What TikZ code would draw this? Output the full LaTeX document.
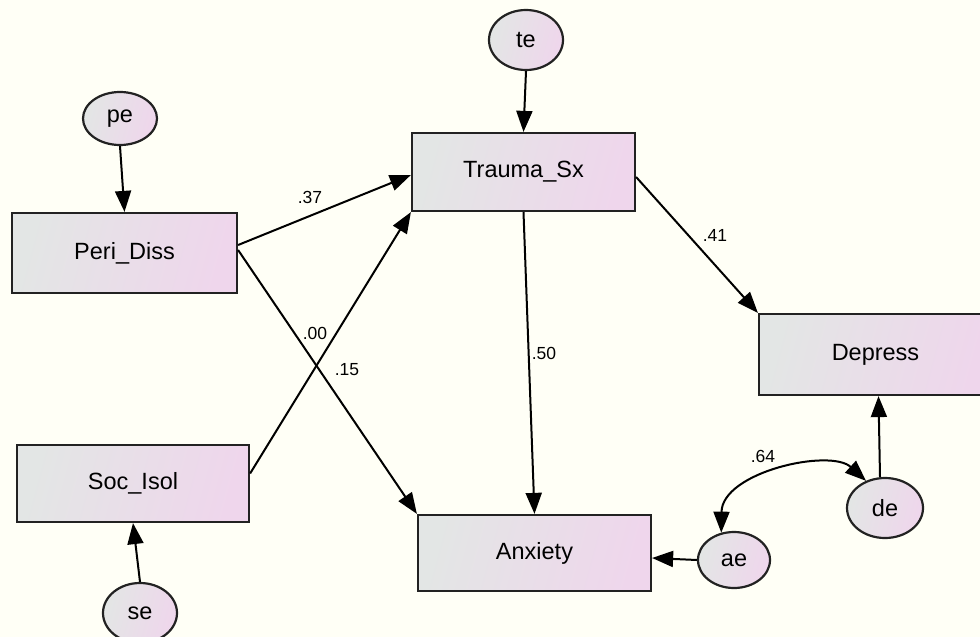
\documentclass[tikz,border=0pt]{standalone}
\usepackage{fontspec}
\setmainfont{Liberation Sans}
\usetikzlibrary{arrows.meta,shapes.geometric}

\definecolor{paper}{HTML}{FFFFF6}
\definecolor{fillL}{HTML}{E3E6E5}
\definecolor{fillR}{HTML}{EFD6EC}
\definecolor{edge}{HTML}{222222}

\tikzset{
  observed/.style={draw=edge, line width=2.2pt, left color=fillL, right color=fillR,
    shading angle=75, rectangle, inner sep=0pt,
    font=\fontsize{23.5}{26}\selectfont},
  residual/.style={draw=edge, line width=2.2pt, left color=fillL, right color=fillR,
    shading angle=75, ellipse, inner sep=0pt,
    font=\fontsize{23.5}{26}\selectfont},
  path/.style={draw=black, line width=2pt, -{Triangle[length=21pt,width=16pt]}},
  covpath/.style={draw=black, line width=2pt,
    {Triangle[length=21pt,width=16pt]}-{Triangle[length=21pt,width=16pt]}},
  coef/.style={font=\fontsize{17.5}{19}\selectfont, inner sep=0pt}
}

\begin{document}
\begin{tikzpicture}[x=1pt,y=-1pt]
  \clip (0,0) rectangle (980,637);
  \fill[paper] (0,0) rectangle (980,637);

  % observed variables
  \node[observed, minimum width=225pt, minimum height=80pt] (peri) at (124.5,253) {Peri\_Diss};
  \node[observed, minimum width=223pt, minimum height=78pt] (trauma) at (523.5,172) {Trauma\_Sx};
  \node[observed, minimum width=233pt, minimum height=81pt] (depress) at (875.5,354.5) {Depress};
  \node[observed, minimum width=232pt, minimum height=77pt] (soc) at (133,483.5) {Soc\_Isol};
  \node[observed, minimum width=233pt, minimum height=76pt] (anx) at (534.5,553) {Anxiety};

  % error terms
  \node[residual, minimum width=74pt, minimum height=53pt] (pe) at (120,118.5) {pe};
  \node[residual, minimum width=74pt, minimum height=60pt] (te) at (526,40) {te};
  \node[residual, minimum width=74pt, minimum height=60pt] (se) at (140,613) {se};
  \node[residual, minimum width=72pt, minimum height=56pt] (ae) at (734,560) {ae};
  \node[residual, minimum width=76pt, minimum height=60pt] (de) at (885,508) {de};

  % error paths
  \draw[path] (pe.south) -- (peri.north);
  \draw[path] (te.south) -- (trauma.north);
  \draw[path] (se.north) -- (soc.south);
  \draw[path] (ae.west) -- ([yshift=-5pt]anx.east);
  \draw[path] ([xshift=-5pt]de.north) -- ([xshift=3pt]depress.south);

  % structural paths
  \draw[path] ([yshift=8pt]peri.east) -- ([yshift=-3pt]trauma.west);
  \draw[path] ([yshift=3pt]peri.east) -- (anx.north west);
  \draw[path] ([yshift=10pt]soc.east) -- (trauma.south west);
  \draw[path] (trauma.south) -- (anx.north);
  \draw[path] ([yshift=-5pt]trauma.east) -- (depress.north west);

  % residual covariance
  \draw[covpath] (ae.115) .. controls (722,472) and (830,448) .. (de.125);

  % coefficients
  \node[coef] (c37) at (310,197) {.37};
  \node[coef] (c00) at (315,333) {.00};
  \node[coef] (c15) at (347,370) {.15};
  \node[coef] (c50) at (544,353) {.50};
  \node[coef] (c41) at (715,235) {.41};
  \node[coef] (c64) at (763,456) {.64};
\end{tikzpicture}
\end{document}
